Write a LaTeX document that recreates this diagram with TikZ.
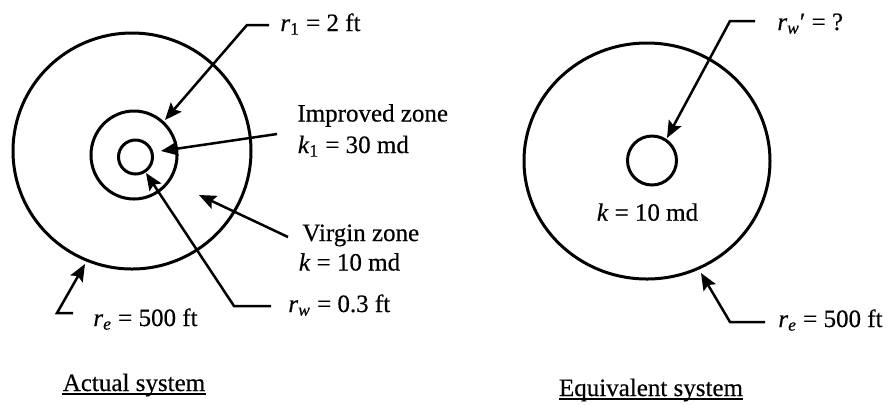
\documentclass[tikz,border=0pt]{standalone}
\usepackage{fontspec}
\setmainfont{Liberation Serif}[FakeBold=0.4]
\usetikzlibrary{arrows.meta,shapes.geometric,calc}
\begin{document}
\begin{tikzpicture}[x=0.5pt,y=-0.5pt,
  ring/.style={draw, ellipse, line width=1.5pt, inner sep=0pt, outer sep=0pt},
  lead/.style={line width=1.25pt, line join=miter, -{Stealth[length=8.5pt,width=7pt,inset=1.5pt]}},
  lbl/.style={anchor=base west, inner sep=0pt, font=\fontsize{12.5pt}{15pt}\selectfont},
  uline/.style={line width=0.75pt},
]
\useasboundingbox (0,0) rectangle (890,404);
% actual system
\node[ring, minimum width=119pt, minimum height=118pt] (big1) at (132,151) {};
\node[ring, minimum width=43pt, minimum height=44pt] (mid1) at (134,155) {};
\node[ring, minimum width=17pt, minimum height=17pt] (well1) at (135.5,157) {};
% equivalent system
\node[ring, minimum width=123pt, minimum height=118pt] (big2) at (647,161) {};
\node[ring, minimum width=24.5pt, minimum height=24.5pt] (well2) at (652,160.5) {};

% labels
\node[lbl] (lr1) at (280,31) {\textit{r}\textsubscript{1} = 2 ft};
\node[lbl] (limp) at (297,121.5) {Improved zone};
\node[lbl] (lk1) at (297.5,153) {\textit{k}\textsubscript{1} = 30 md};
\node[lbl] (lvir) at (302,241) {Virgin zone};
\node[lbl] (lk) at (298.5,270.5) {\textit{k} = 10 md};
\node[lbl] (lrw) at (288,312) {\textit{r}\textsubscript{\textit{w}} = 0.3 ft};
\node[lbl] (lre1) at (93,326) {\textit{r}\textsubscript{\textit{e}} = 500 ft};
\node[lbl] (lrwp) at (777,30) {\textit{r}\textsubscript{\textit{w}}′ = ?};
\node[lbl, anchor=base] (lk2) at (647.5,220.7) {\textit{k} = 10 md};
\node[lbl] (lre2) at (778,327) {\textit{r}\textsubscript{\textit{e}} = 500 ft};
\node[lbl, anchor=base] (cap1) at (134,391) {Actual system};
\node[lbl, anchor=base] (cap2) at (651,396) {Equivalent system};
\draw[uline] ($(cap1.base west)+(0,3)$) -- ($(cap1.base east)+(0,3)$);
\draw[uline] ($(cap2.base west)+(0,3)$) -- ($(cap2.base east)+(0,3)$);

% leader coordinates
\coordinate (r1a) at (269,25);
\coordinate (r1b) at (247,25);
\coordinate (r1t) at (165,120);
\coordinate (impa) at (277,134);
\coordinate (impt) at (161,151);
\coordinate (vira) at (288,237);
\coordinate (virt) at (199,195);
\coordinate (rwa) at (271,306);
\coordinate (rwb) at (234,306);
\coordinate (rwt) at (146,173);
\coordinate (rea) at (73,313);
\coordinate (reb) at (57,313);
\coordinate (ret) at (85,264);
\coordinate (rwpa) at (755,21);
\coordinate (rwpb) at (730,21);
\coordinate (rwpt) at (667,138);
\coordinate (re2a) at (765,322);
\coordinate (re2b) at (730,322);
\coordinate (re2t) at (701,273);

\draw[lead] (r1a) -- (r1b) -- (r1t);
\draw[lead] (impa) -- (impt);
\draw[lead] (vira) -- (virt);
\draw[lead] (rwa) -- (rwb) -- (rwt);
\draw[lead] (rea) -- (reb) -- (ret);
\draw[lead] (rwpa) -- (rwpb) -- (rwpt);
\draw[lead] (re2a) -- (re2b) -- (re2t);
\end{tikzpicture}
\end{document}
